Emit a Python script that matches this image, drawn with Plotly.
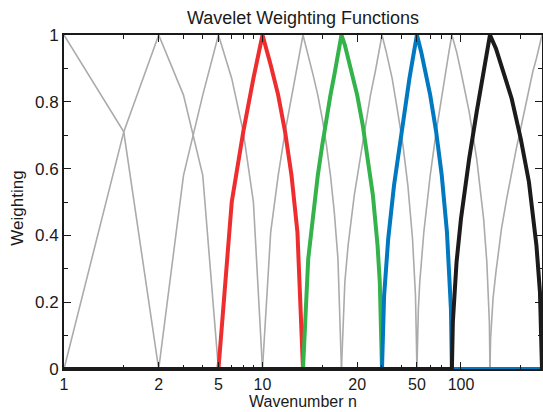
import math
import plotly.graph_objects as go

# ---- data (wavenumber n, weighting) ----
# gray (background) weighting functions
n_g0 = [1, 2, 3, 256]
w_g0 = [1, 0.71, 0, 0]

n_g1 = [1, 2, 3, 4, 5, 6, 256]
w_g1 = [0, 0.71, 1, 0.82, 0.58, 0, 0]

n_g2 = [1, 3, 4, 5, 6, 7, 8, 9, 10, 256]
w_g2 = [0, 0, 0.58, 0.82, 1, 0.87, 0.71, 0.5, 0, 0]

n_g4 = [1, 10, 11, 12, 13, 14, 15, 16, 17, 18, 19, 20, 21, 22, 23, 24, 25, 256]
w_g4 = [0, 0, 0.41, 0.58, 0.71, 0.82, 0.91, 1, 0.94, 0.88, 0.82, 0.75, 0.67, 0.58, 0.47, 0.33, 0, 0]

n_g6 = [1, 25, 26, 27, 29, 31, 33, 35, 37, 39, 40, 42, 45, 48, 51, 54, 57, 59, 60, 256]
w_g6 = [0, 0, 0.26, 0.37, 0.52, 0.63, 0.73, 0.82, 0.89, 0.97, 1, 0.95, 0.87, 0.77, 0.67, 0.55, 0.39, 0.22, 0, 0]

n_g8 = [1, 60, 61, 62, 65, 70, 75, 80, 84, 87, 90, 95, 100, 110, 120, 130, 135, 138, 139, 140, 256]
w_g8 = [0, 0, 0.18, 0.26, 0.41, 0.58, 0.71, 0.82, 0.89, 0.95, 1, 0.95, 0.89, 0.77, 0.63, 0.45, 0.32, 0.2, 0.14, 0, 0]

n_g10 = [1, 140, 141, 142, 145, 150, 160, 170, 180, 190, 200, 210, 220, 230, 240, 250, 256]
w_g10 = [0, 0, 0.09, 0.13, 0.21, 0.29, 0.42, 0.51, 0.59, 0.66, 0.72, 0.78, 0.84, 0.89, 0.93, 0.97, 1]

# highlighted weighting functions
n_red = [1, 6, 7, 8, 9, 10, 11, 12, 13, 14, 15, 16, 256]
w_red = [0, 0, 0.5, 0.71, 0.87, 1, 0.91, 0.82, 0.71, 0.58, 0.41, 0, 0]

n_green = [1, 16, 17, 18, 19, 20, 21, 22, 23, 24, 25, 26, 28, 30, 32, 34, 36, 38, 39, 40, 256]
w_green = [0, 0, 0.33, 0.47, 0.58, 0.67, 0.75, 0.82, 0.88, 0.94, 1, 0.97, 0.89, 0.82, 0.73, 0.63, 0.52, 0.37, 0.26, 0, 0]

n_blue = [1, 40, 41, 43, 46, 49, 52, 55, 58, 60, 63, 66, 70, 75, 80, 85, 88, 89, 90, 256]
w_blue = [0, 0, 0.22, 0.39, 0.55, 0.67, 0.77, 0.87, 0.95, 1, 0.95, 0.89, 0.82, 0.71, 0.58, 0.41, 0.26, 0.18, 0, 0]

n_black = [1, 90, 91, 92, 95, 100, 110, 120, 130, 135, 140, 150, 160, 180, 200, 220, 240, 250, 256]
w_black = [0, 0, 0.14, 0.2, 0.32, 0.45, 0.63, 0.77, 0.89, 0.95, 1, 0.96, 0.91, 0.81, 0.69, 0.56, 0.37, 0.23, 0]

# axis ticks
x_tick_vals = [1, 3, 6, 10, 30, 60, 100]
x_tick_text = ["1", "2", "5", "10", "20", "50", "100"]
x_minor_vals = [2, 4, 5, 7, 8, 9, 20, 40, 50, 70, 80, 90, 200]
x_max = 256

FONT = "Liberation Sans, Arial, Helvetica, sans-serif"
INK = "#1a1a1a"

FIG_W, FIG_H = 543, 412
PLOT_W, PLOT_H = 478, 334

fig = go.Figure()

gray_curves = [(n_g0, w_g0), (n_g1, w_g1), (n_g2, w_g2), (n_g4, w_g4),
               (n_g6, w_g6), (n_g8, w_g8), (n_g10, w_g10)]
for n, w in gray_curves:
    fig.add_trace(go.Scatter(x=n, y=w, mode="lines",
                             line=dict(color="#ababab", width=1.6),
                             hoverinfo="skip", showlegend=False))

colored = [(n_red, w_red, "#ee2d2f"), (n_green, w_green, "#33b34a"),
           (n_blue, w_blue, "#0079c1"), (n_black, w_black, "#1c1a1a")]
for n, w, c in colored:
    fig.add_trace(go.Scatter(x=n, y=w, mode="lines",
                             line=dict(color=c, width=4),
                             hoverinfo="skip", showlegend=False))

fig.update_layout(
    width=FIG_W, height=FIG_H,
    margin=dict(l=64, r=1, t=35, b=43, autoexpand=False),
    plot_bgcolor="white", paper_bgcolor="white",
    showlegend=False,
    title=dict(text="Wavelet Weighting Functions", x=0.5, xref="paper",
               xanchor="center", y=1 - 18 / FIG_H, yanchor="middle",
               font=dict(family=FONT, size=18, color=INK)),
    annotations=[
        dict(text="Wavenumber n", xref="paper", yref="paper", x=0.5,
             y=-32 / PLOT_H, xanchor="center", yanchor="middle", showarrow=False,
             font=dict(family=FONT, size=16, color=INK)),
        dict(text="Weighting", xref="paper", yref="paper", x=-46 / PLOT_W,
             y=0.48, xanchor="center", yanchor="middle", showarrow=False,
             textangle=-90, font=dict(family=FONT, size=17, color=INK)),
    ],
)

fig.update_xaxes(
    type="log", range=[0, math.log10(x_max)], automargin=False,
    tickmode="array", tickvals=x_tick_vals, ticktext=x_tick_text,
    ticks="inside", ticklen=7, tickwidth=1.3, tickcolor=INK,
    minor=dict(tickmode="array", tickvals=x_minor_vals, ticks="inside",
               ticklen=4, tickwidth=1.3, tickcolor=INK),
    showline=True, linecolor=INK, linewidth=2, mirror="allticks",
    showgrid=False, zeroline=False,
    tickfont=dict(family=FONT, size=16, color=INK),
)

fig.update_yaxes(
    range=[0, 1], dtick=0.2, tick0=0, automargin=False,
    ticks="inside", ticklen=7, tickwidth=1.3, tickcolor=INK,
    minor=dict(dtick=0.1, ticks="inside", ticklen=4, tickwidth=1.3,
               tickcolor=INK),
    showline=True, linecolor=INK, linewidth=2, mirror="allticks",
    showgrid=False, zeroline=False,
    tickformat="~g",
    tickfont=dict(family=FONT, size=17, color=INK),
)

fig.write_html(
    "out.html",
    config={"displayModeBar": False},
    post_script="document.body.style.margin='0';document.body.style.overflow='hidden';",
)
